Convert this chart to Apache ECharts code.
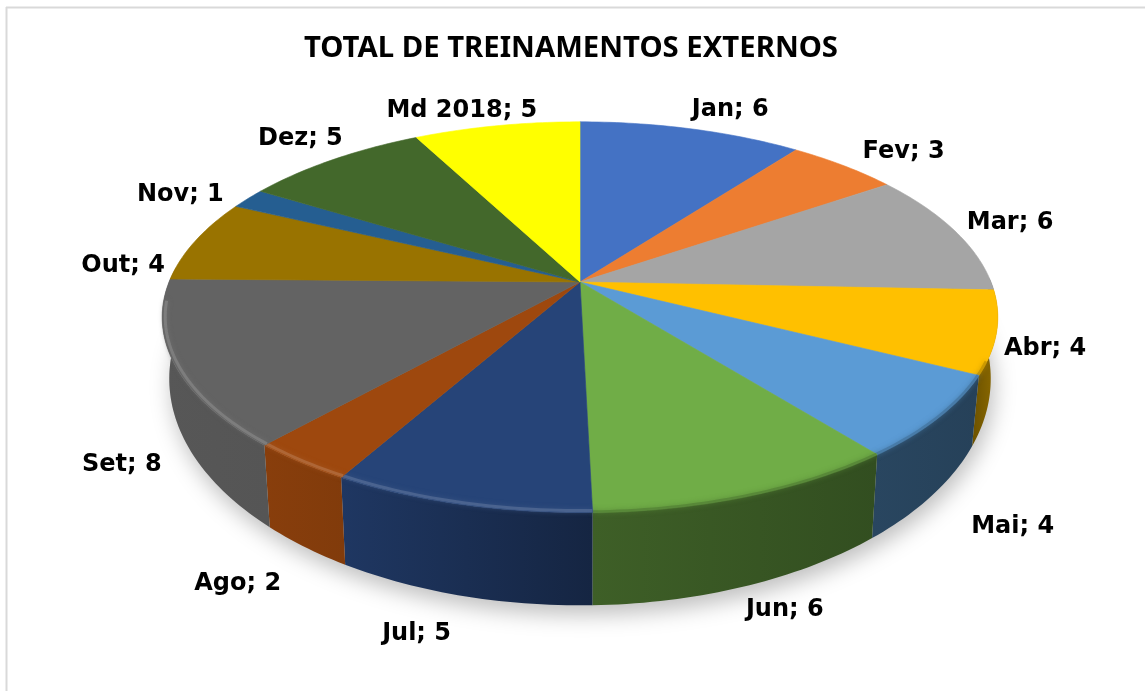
<!DOCTYPE html>
<html><head><meta charset="utf-8">
<style>html,body{margin:0;padding:0;background:#fff}#c{width:1145px;height:691px}</style>
<script src="https://cdn.jsdelivr.net/npm/echarts@6/dist/echarts.min.js"></script>
</head><body><div id="c"></div>
<script>
const categories = ['Jan','Fev','Mar','Abr','Mai','Jun','Jul','Ago','Set','Out','Nov','Dez','Md 2018'];
const values = [6,3,6,4,4,6,5,2,8,4,1,5,5];
const chartTitle = 'TOTAL DE TREINAMENTOS EXTERNOS';
const palette = ['#4472c4','#ed7d31','#a5a5a5','#ffc000','#5b9bd5','#70ad47','#264478','#9e480e','#636363','#997300','#255e91','#43682b','#ffff00'];

// projection of the disc: perspective tilt seen from the front
const LABEL_FONT = 'DejaVu Sans';
const TITLE_FONT = 'Noto Sans';
const P = {cx:580, cy:282, a:411, b:189, k:0.18};
const labelShift = [[40,-19],[62,-13],[56,-7],[48,20],[69,113],[25,116],[-58,128],[-75,116],[-57,93],[-66,18],[-57,-11],[-18,-26],[-26,-16]];
const total = values.reduce((s,v)=>s+v,0);
const cum = values.reduce((o,v)=>{o.push(o[o.length-1]+v);return o;},[0]);
const angle = i => cum[i]/total*360;
const rad = d => d*Math.PI/180;
// the camera's slight yaw drags the slice edges round the disc
const warp = d => d<330 ? d+3*d/330 : d+3*(360-d)/30;
function rawRim(deg,r){
  const t=rad(deg), u=r*Math.sin(t), v=-r*Math.cos(t), d=1-P.k*v;
  return [P.cx+P.a*u/d, P.cy+P.b*v/d];
}
const rim = (deg,r)=>rawRim(warp(deg),r===undefined?1:r);
function lower(p){ // same rim, on the underside of the disc
  return [P.cx+(p[0]-P.cx)*0.983, p[1]+84+0.16*(p[1]-457)];
}
function arc(a0,a1,r){
  const pts=[]; const n=Math.max(2,Math.ceil((a1-a0)));
  for(let j=0;j<=n;j++) pts.push(rim(a0+(a1-a0)*j/n,r));
  return pts;
}
function mix(hex,f){
  const n=parseInt(hex.slice(1),16);
  const c=[n>>16&255,n>>8&255,n&255].map(x=>Math.round(x*f));
  return 'rgb('+c.join(',')+')';
}
function lighten(hex,t){
  const n=parseInt(hex.slice(1),16);
  const c=[n>>16&255,n>>8&255,n&255].map(x=>Math.round(x+(255-x)*t));
  return 'rgb('+c.join(',')+')';
}
function shade(t){
  if(t<115) return 0.42+(115-t)*0.006;
  if(t<=177) return 0.42+Math.max(t-130,0)*0.13/47;
  return Math.min(0.88,0.7+(t-177)*0.15/40);
}
const ids = values.map((v,i)=>[i,v]);

const shadowItem = (params,api)=>{
  if(params.dataIndex!==0) return null;
  const pts=arc(0,360).map(lower);
  return {type:'polygon',shape:{points:pts},style:{fill:'#ccc',shadowColor:'rgba(0,0,0,0.26)',shadowBlur:22,shadowOffsetX:3,shadowOffsetY:9}};
};
const sideItem = (params,api)=>{
  const i=params.dataIndex;
  const a0=Math.max(angle(i),88), a1=Math.min(angle(i+1),272);
  if(a1<=a0) return null;
  const top=arc(a0,a1), low=top.map(lower).reverse();
  return {type:'polygon',shape:{points:top.concat(low)},
    style:{fill:new echarts.graphic.LinearGradient(0,0,1,0,[
      {offset:0,color:mix(palette[i],shade(a1))},
      {offset:1,color:mix(palette[i],shade(a0))}])}};
};
const topItem = (params,api)=>{
  const i=params.dataIndex, a0=angle(i), a1=angle(i+1);
  const apex=[P.cx,P.cy];
  const children=[{type:'polygon',shape:{points:[apex].concat(arc(a0,a1))},
    style:{fill:palette[i],stroke:palette[i],lineWidth:0.6}}];
  const h0=Math.max(a0,112), h1=Math.min(a1,262);
  if(h1>h0){
    const strong=(h0+h1)/2>176;
    children.push({type:'polyline',shape:{points:arc(h0,h1,strong?0.993:0.998)},
      style:{fill:null,stroke:strong?lighten(palette[i],0.2):mix(palette[i],0.74),lineWidth:3,
        shadowBlur:5,shadowColor:strong?lighten(palette[i],0.1):mix(palette[i],0.74),opacity:strong?0.8:0.7}});
  }
  return {type:'group',children};
};
const labelItem = (params,api)=>{
  const i=params.dataIndex, m=(angle(i)+angle(i+1))/2, p=rawRim(m,1);
  return {type:'text',x:p[0]+labelShift[i][0],y:p[1]+labelShift[i][1],
    style:{text:categories[i]+'; '+values[i],fill:'#000',font:'bold 24px "'+LABEL_FONT+'"',align:'center',verticalAlign:'middle'}};
};
const layer=(name,z,fn)=>({type:'custom',name,coordinateSystem:'none',z,silent:true,animation:false,data:ids,renderItem:fn,clip:false});

const chart=echarts.init(document.getElementById('c'),null,{width:1145,height:691});
chart.setOption({
  animation:false,
  backgroundColor:'#ffffff',
  title:{text:chartTitle,left:566,top:29,textAlign:'center',textStyle:{fontFamily:TITLE_FONT,fontWeight:'bold',fontSize:29.3,color:'#000'}},
  graphic:[
    {type:'line',z:0,shape:{x1:6,y1:7.5,x2:1145,y2:7.5},style:{stroke:'#d9d9d9',lineWidth:2}},
    {type:'line',z:0,shape:{x1:6.5,y1:7,x2:6.5,y2:691},style:{stroke:'#d9d9d9',lineWidth:2}}
  ],
  series:[layer('sombra',1,shadowItem),layer('lateral',2,sideItem),layer('topo',3,topItem),layer('rótulos',4,labelItem)]
});
</script></body></html>
